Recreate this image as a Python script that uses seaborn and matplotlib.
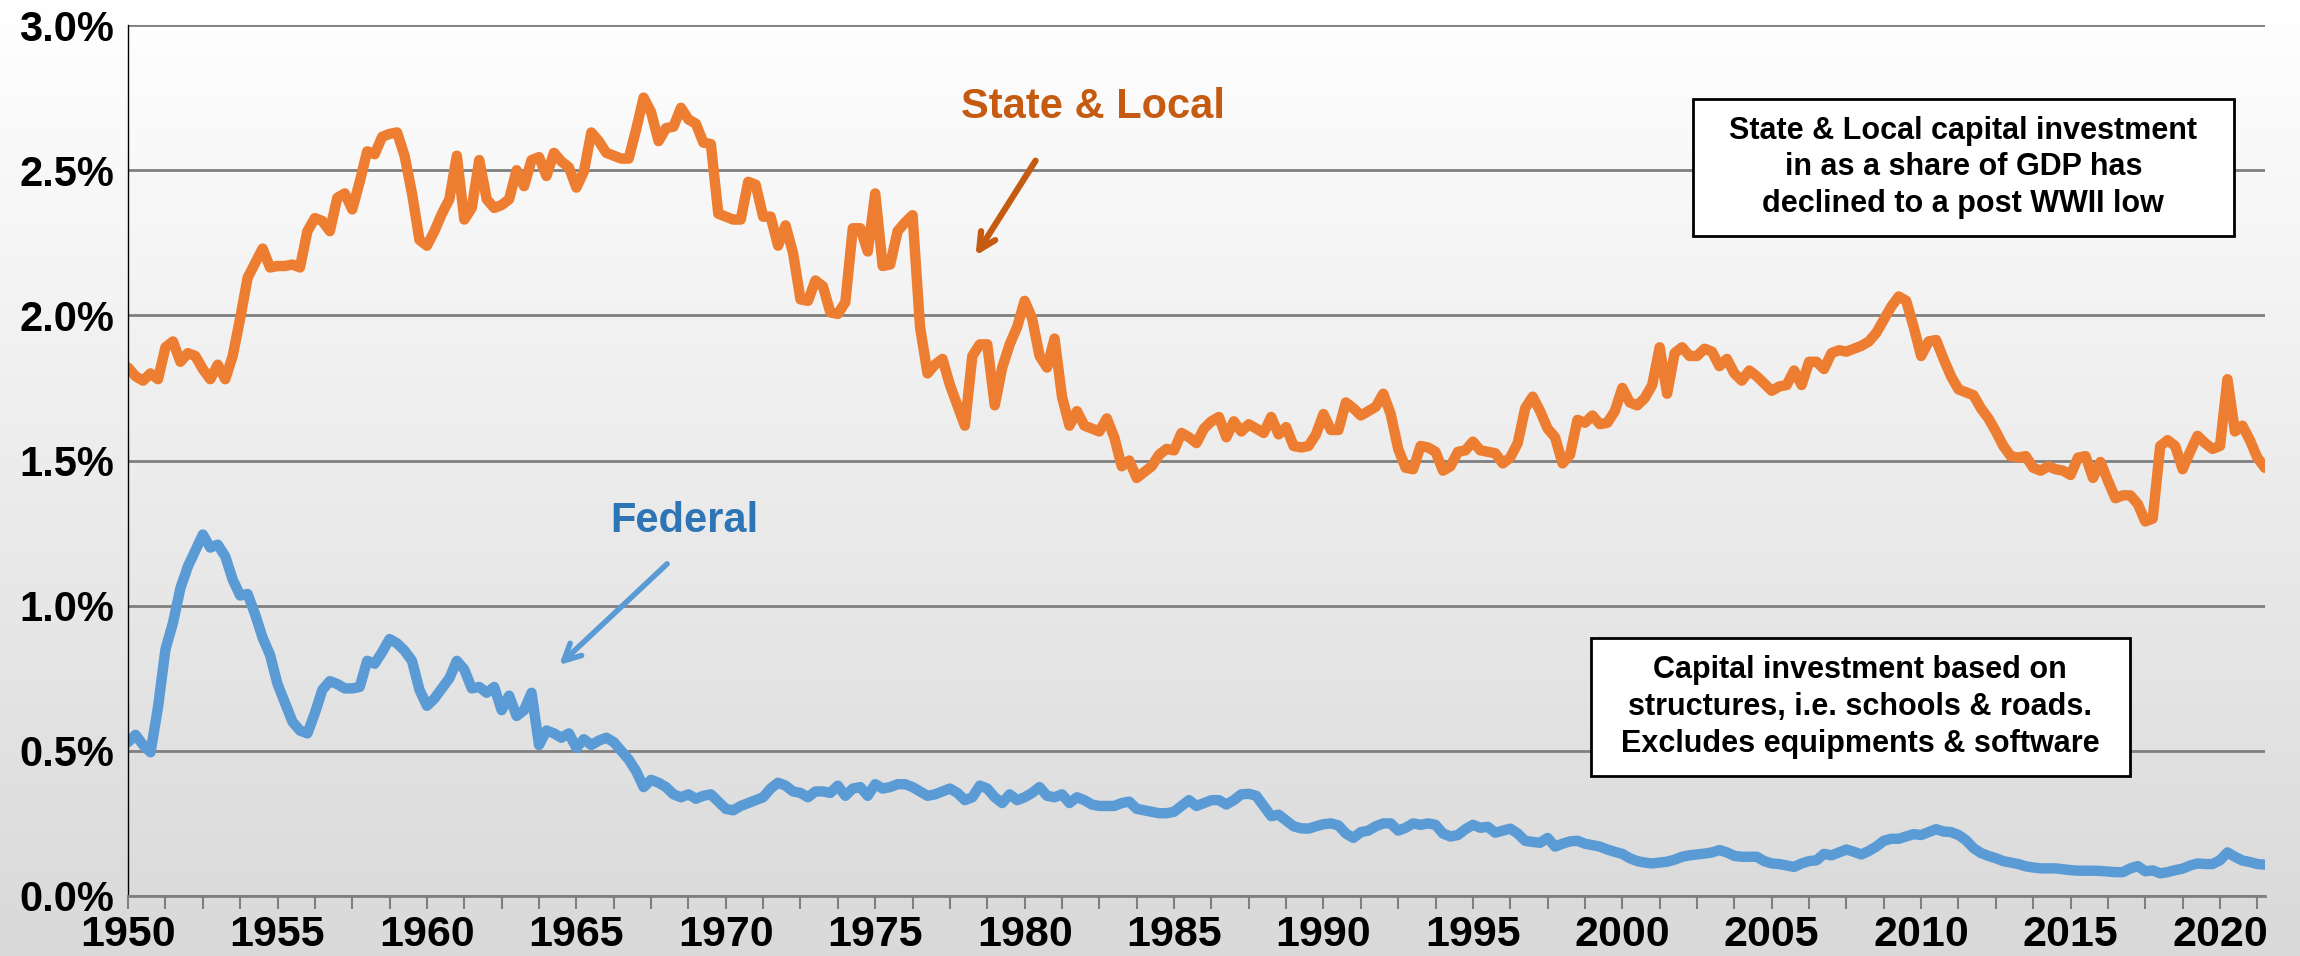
import numpy as np
import pandas as pd
import matplotlib
matplotlib.use("Agg")
import matplotlib.pyplot as plt
from matplotlib.colors import LinearSegmentedColormap
from matplotlib.patches import Rectangle
import seaborn as sns

# quarterly share of GDP (%), 1950Q1 .. 2021Q3
state_local = [
    1.82, 1.79, 1.775, 1.80, 1.78, 1.89, 1.91, 1.84, 1.87, 1.86, 1.815, 1.78,
    1.83, 1.78, 1.86, 1.99, 2.13, 2.18, 2.23, 2.165, 2.17, 2.17, 2.175, 2.165,
    2.29, 2.335, 2.325, 2.29, 2.405, 2.42, 2.365, 2.46, 2.565, 2.555, 2.615, 2.625,
    2.63, 2.55, 2.42, 2.26,  # 1959
    2.24, 2.29, 2.35, 2.40, 2.55, 2.33, 2.37, 2.535, 2.40, 2.37, 2.38, 2.40,
    2.50, 2.445, 2.535, 2.545, 2.48, 2.56, 2.53, 2.51, 2.44, 2.495, 2.63, 2.60,
    2.56, 2.55, 2.54, 2.54, 2.64, 2.75, 2.70, 2.60, 2.645, 2.65, 2.715, 2.675,
    2.66, 2.595, 2.59, 2.35,  # 1969
    2.34, 2.33, 2.33, 2.46, 2.45, 2.34, 2.34, 2.24, 2.31, 2.215, 2.055, 2.05,
    2.12, 2.10, 2.01, 2.005, 2.045, 2.30, 2.30, 2.22, 2.42, 2.17, 2.175, 2.29,
    2.32, 2.345, 1.96, 1.80, 1.83, 1.85, 1.76, 1.69, 1.62, 1.86, 1.90, 1.90,
    1.69, 1.82, 1.90, 1.96,  # 1979
    2.05, 1.99, 1.86, 1.82, 1.92, 1.72, 1.62, 1.67, 1.62, 1.61, 1.60, 1.645,
    1.58, 1.48, 1.50, 1.44, 1.46, 1.48, 1.52, 1.54, 1.535, 1.595, 1.58, 1.56,
    1.61, 1.635, 1.65, 1.58, 1.635, 1.60, 1.625, 1.61, 1.595, 1.65, 1.59, 1.615,
    1.55, 1.545, 1.55, 1.59,  # 1989
    1.66, 1.605, 1.605, 1.70, 1.68, 1.655, 1.67, 1.685, 1.73, 1.66, 1.54, 1.475,
    1.47, 1.55, 1.545, 1.53, 1.465, 1.48, 1.53, 1.535, 1.565, 1.535, 1.53, 1.525,
    1.49, 1.51, 1.56, 1.68, 1.72, 1.67, 1.61, 1.58, 1.49, 1.52, 1.64, 1.63,
    1.655, 1.625, 1.63, 1.67,  # 1999
    1.75, 1.70, 1.69, 1.715, 1.76, 1.89, 1.73, 1.87, 1.89, 1.86, 1.86, 1.885,
    1.875, 1.825, 1.85, 1.80, 1.775, 1.81, 1.79, 1.765, 1.74, 1.755, 1.76, 1.81,
    1.76, 1.84, 1.84, 1.815, 1.87, 1.88, 1.875, 1.885, 1.895, 1.91, 1.94, 1.985,
    2.03, 2.065, 2.05, 1.96,  # 2009
    1.86, 1.91, 1.915, 1.85, 1.79, 1.745, 1.735, 1.725, 1.68, 1.645, 1.60, 1.55,
    1.515, 1.51, 1.515, 1.475, 1.465, 1.48, 1.47, 1.465, 1.45, 1.51, 1.515, 1.44,
    1.495, 1.43, 1.37, 1.38, 1.38, 1.35, 1.29, 1.30, 1.55, 1.57, 1.55, 1.47,
    1.53, 1.585, 1.56, 1.54,  # 2019
    1.55, 1.78, 1.60, 1.62, 1.57, 1.51, 1.475,
]

federal = [
    0.53, 0.555, 0.52, 0.495, 0.65, 0.85, 0.94, 1.06, 1.135, 1.19, 1.245, 1.20,
    1.21, 1.17, 1.09, 1.035, 1.04, 0.97, 0.89, 0.83, 0.73, 0.665, 0.60, 0.57,
    0.56, 0.63, 0.71, 0.74, 0.73, 0.715, 0.715, 0.72, 0.81, 0.80, 0.84, 0.885,
    0.87, 0.845, 0.81, 0.71,  # 1959
    0.655, 0.68, 0.715, 0.75, 0.81, 0.78, 0.715, 0.72, 0.70, 0.72, 0.64, 0.69,
    0.62, 0.64, 0.70, 0.52, 0.57, 0.56, 0.545, 0.56, 0.51, 0.54, 0.52, 0.535,
    0.545, 0.53, 0.50, 0.47, 0.43, 0.375, 0.40, 0.39, 0.375, 0.35, 0.34, 0.35,
    0.335, 0.345, 0.35, 0.325,  # 1969
    0.30, 0.295, 0.31, 0.32, 0.33, 0.34, 0.37, 0.39, 0.38, 0.36, 0.355, 0.34,
    0.36, 0.36, 0.355, 0.38, 0.345, 0.37, 0.375, 0.345, 0.385, 0.37, 0.375, 0.385,
    0.385, 0.375, 0.36, 0.345, 0.35, 0.36, 0.37, 0.355, 0.33, 0.34, 0.38, 0.37,
    0.34, 0.32, 0.35, 0.33,  # 1979
    0.34, 0.355, 0.375, 0.345, 0.34, 0.35, 0.32, 0.34, 0.33, 0.315, 0.31, 0.31,
    0.31, 0.32, 0.325, 0.30, 0.295, 0.29, 0.285, 0.285, 0.29, 0.31, 0.33, 0.31,
    0.32, 0.33, 0.33, 0.315, 0.33, 0.35, 0.352, 0.345, 0.31, 0.275, 0.28, 0.26,
    0.24, 0.233, 0.232, 0.24,  # 1989
    0.247, 0.25, 0.243, 0.215, 0.20, 0.22, 0.225, 0.24, 0.25, 0.25, 0.225, 0.235,
    0.25, 0.245, 0.25, 0.245, 0.215, 0.205, 0.21, 0.23, 0.245, 0.235, 0.238, 0.218,
    0.225, 0.232, 0.215, 0.19, 0.186, 0.183, 0.20, 0.17, 0.18, 0.188, 0.19, 0.18,
    0.175, 0.17, 0.16, 0.152,  # 1999
    0.145, 0.13, 0.12, 0.115, 0.112, 0.115, 0.118, 0.125, 0.135, 0.14, 0.143, 0.146,
    0.15, 0.158, 0.15, 0.138, 0.135, 0.135, 0.135, 0.12, 0.112, 0.11, 0.105, 0.10,
    0.112, 0.12, 0.123, 0.145, 0.14, 0.15, 0.16, 0.152, 0.143, 0.155, 0.17, 0.19,
    0.197, 0.197, 0.205, 0.213,  # 2009
    0.21, 0.22, 0.23, 0.222, 0.22, 0.21, 0.192, 0.165, 0.148, 0.138, 0.13, 0.12,
    0.115, 0.11, 0.102, 0.098, 0.095, 0.095, 0.095, 0.092, 0.089, 0.087, 0.087, 0.087,
    0.086, 0.084, 0.082, 0.082, 0.095, 0.103, 0.085, 0.088, 0.078, 0.082, 0.089, 0.094,
    0.105, 0.112, 0.11, 0.11,  # 2019
    0.123, 0.15, 0.135, 0.122, 0.117, 0.11, 0.108,
]

label_years = [1950, 1955, 1960, 1965, 1970, 1975, 1980, 1985, 1990, 1995,
               2000, 2005, 2010, 2015, 2020]
y_ticks = [0.0, 0.5, 1.0, 1.5, 2.0, 2.5, 3.0]

quarters = 1950 + np.arange(len(state_local)) / 4
df = pd.DataFrame({"year": quarters, "State & Local": state_local, "Federal": federal})
long_df = df.melt(id_vars="year", var_name="series", value_name="share")

plt.rcParams["font.family"] = ["Liberation Sans Narrow", "Liberation Sans", "DejaVu Sans"]
plt.rcParams["font.weight"] = "bold"

fig = plt.figure(figsize=(23, 9.56), dpi=100)

# grey-to-white backdrop over the whole slide
bg = fig.add_axes([0, 0, 1, 1], zorder=0)
grad = np.linspace(1, 0, 256).reshape(-1, 1)
bg.imshow(grad, cmap=LinearSegmentedColormap.from_list("bg", ["#d9d9d9", "#ffffff"]),
          aspect="auto", extent=[0, 1, 0, 1])
bg.axis("off")

ax = fig.add_axes([0.0557, 0.0628, 0.929, 0.911], zorder=1)
ax.set_facecolor("none")

sns.lineplot(data=long_df, x="year", y="share", hue="series",
             palette={"State & Local": "#ED7D31", "Federal": "#5B9BD5"},
             linewidth=7.5, legend=False, estimator=None, ax=ax)
for ln in ax.lines:
    ln.set_solid_joinstyle("round")
    ln.set_solid_capstyle("round")

ax.set_xlim(1950, quarters[-1])
ax.set_ylim(0, 3)
ax.set_xlabel("")
ax.set_ylabel("")

ax.set_yticks(y_ticks)
ax.set_yticklabels([f"{v:.1f}%" for v in y_ticks])
ax.set_xticks(label_years)
ax.set_xticklabels([str(y) for y in label_years])
ax.set_xticks(np.arange(1950, quarters[-1] + 0.01, 1.25), minor=True)

ax.yaxis.grid(True, color="#7f7f7f", linewidth=2)
ax.set_axisbelow(True)

ax.tick_params(axis="y", length=0, pad=10, labelsize=30)
ax.tick_params(axis="x", which="both", length=9, width=1.5, color="#7f7f7f",
               direction="out", pad=5, labelsize=31)

for side in ["top", "right"]:
    ax.spines[side].set_visible(False)
ax.spines["left"].set_color("black")
ax.spines["left"].set_linewidth(1)
ax.spines["bottom"].set_color("#7f7f7f")
ax.spines["bottom"].set_linewidth(2)

# series labels with arrows
ax.text(0.4516, 0.906, "State & Local", transform=ax.transAxes, ha="center", va="center",
        fontsize=30, fontweight="bold", color="#C55A11")
ax.annotate("", xy=(0.3959, 0.7325), xytext=(0.4254, 0.847), xycoords="axes fraction",
            arrowprops=dict(arrowstyle="->,head_length=1.2,head_width=0.6",
                            color="#C55A11", lw=4.5))
ax.text(0.2602, 0.4305, "Federal", transform=ax.transAxes, ha="center", va="center",
        fontsize=30, fontweight="bold", color="#2E75B6")
ax.annotate("", xy=(0.2008, 0.263), xytext=(0.2532, 0.3835), xycoords="axes fraction",
            arrowprops=dict(arrowstyle="->,head_length=1.2,head_width=0.6",
                            color="#5B9BD5", lw=4))

# note boxes
notes = [
    (0.7323, 0.7578, 0.2532, 0.1573,
     "State & Local capital investment\nin as a share of GDP has\ndeclined to a post WWII low"),
    (0.6846, 0.1378, 0.2522, 0.1584,
     "Capital investment based on\nstructures, i.e. schools & roads.\nExcludes equipments & software"),
]
for x0, y0, w, h, txt in notes:
    ax.add_patch(Rectangle((x0, y0), w, h, transform=ax.transAxes, facecolor="white",
                           edgecolor="black", linewidth=2, zorder=5))
    ax.text(x0 + w / 2, y0 + h / 2, txt, transform=ax.transAxes, ha="center", va="center",
            fontsize=22, fontweight="bold", color="black", linespacing=1.3, zorder=6)

fig.savefig("out.png", dpi=100)
